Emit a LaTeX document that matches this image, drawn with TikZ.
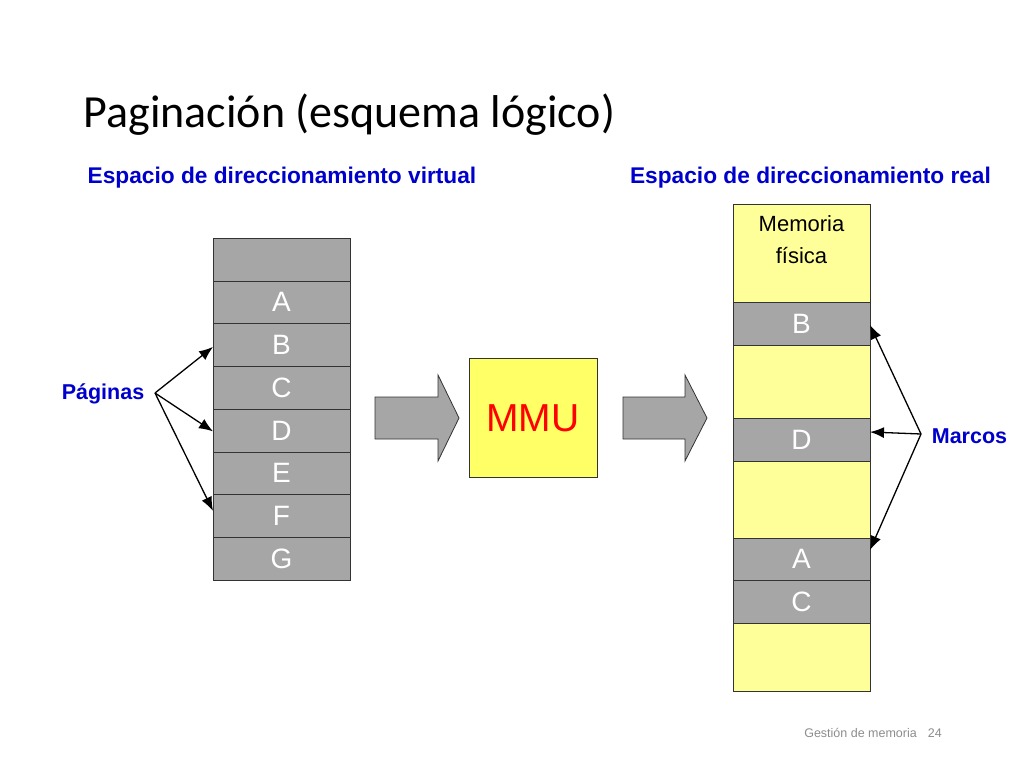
\documentclass[tikz,border=0pt]{standalone}
\usepackage{fontspec}
\setmainfont{Liberation Sans}
\newfontfamily\titlefont{Carlito}
\usetikzlibrary{arrows.meta,calc}

\definecolor{boxgray}{RGB}{166,166,166}
\definecolor{memyellow}{RGB}{255,255,153}
\definecolor{mmuyellow}{RGB}{255,255,102}
\definecolor{labelblue}{RGB}{0,0,204}

\tikzset{
  pagebox/.style={draw=black!80, fill=boxgray, text=white, inner sep=0pt, outer sep=0pt,
    minimum width=137pt, font=\fontsize{28}{28}\selectfont},
  membox/.style={draw=black!80, fill=memyellow, inner sep=0pt, outer sep=0pt, minimum width=137pt},
  pointer/.style={-{Latex[length=14pt,width=11pt]}, line width=1.3pt},
  bigarrow/.style={draw=black!80, fill=boxgray, line width=0.8pt},
  heading/.style={text=labelblue, font=\bfseries\fontsize{22.7}{22.7}\selectfont},
  sidelabel/.style={text=labelblue, font=\bfseries\fontsize{21.5}{21.5}\selectfont}
}

\begin{document}
\begin{tikzpicture}[x=1pt, y=-1pt]
\useasboundingbox (0,0) rectangle (1024,768);

\node[anchor=west, font=\titlefont\fontsize{46}{46}\selectfont] (title) at (80,115) {Paginación (esquema lógico)};

\node[heading] (hvirt) at (282,178) {Espacio de direccionamiento virtual};
\node[heading] (hreal) at (810.5,178) {Espacio de direccionamiento real};

% espacio virtual
\node[pagebox, minimum height=42.75pt] (r0) at (281.5,259.4) {};
\node[pagebox, minimum height=42.75pt] (rA) at (281.5,302.1) {A};
\node[pagebox, minimum height=42.75pt] (rB) at (281.5,344.9) {B};
\node[pagebox, minimum height=42.75pt] (rC) at (281.5,387.6) {C};
\node[pagebox, minimum height=42.75pt] (rD) at (281.5,430.4) {D};
\node[pagebox, minimum height=42.75pt] (rE) at (281.5,473.1) {E};
\node[pagebox, minimum height=42.75pt] (rF) at (281.5,515.9) {F};
\node[pagebox, minimum height=42.75pt] (rG) at (281.5,558.6) {G};

\node[sidelabel] (pag) at (103,394) {Páginas};
\coordinate (pagO) at (155,393);
\draw[pointer] (pagO) -- ($(rB.west)+(0,2)$);
\draw[pointer] (pagO) -- ($(rD.west)+(0,1)$);
\draw[pointer] (pagO) -- ($(rF.west)+(0,-5)$);

% MMU
\draw[bigarrow] (375,397) -- (438,397) -- (438,375) -- (459,418) -- (438,461) -- (438,439) -- (375,439) -- cycle;
\node[draw=black!80, fill=mmuyellow, text=red, minimum width=128pt, minimum height=119pt,
  inner sep=0pt, font=\fontsize{39}{39}\selectfont] (mmu) at (533,418) {MMU};
\draw[bigarrow] (623,397) -- (685,397) -- (685,375) -- (707,418) -- (685,461) -- (685,439) -- (623,439) -- cycle;

% memoria fisica
\node[membox, minimum height=98pt] (m0) at (801.5,253) {};
\node[font=\fontsize{22}{32}\selectfont, align=center] (mtext) at (801.5,240) {Memoria\\física};
\node[pagebox, minimum height=43pt] (mB) at (801.5,323.5) {B};
\node[membox, minimum height=73pt] (m1) at (801.5,381.5) {};
\node[pagebox, minimum height=43pt] (mD) at (801.5,439.5) {D};
\node[membox, minimum height=77pt] (m2) at (801.5,499.5) {};
\node[pagebox, minimum height=42pt] (mA) at (801.5,559) {A};
\node[pagebox, minimum height=43pt] (mC) at (801.5,601.5) {C};
\node[membox, minimum height=68pt] (m3) at (801.5,657) {};

\node[sidelabel] (mar) at (969.5,436) {Marcos};
\coordinate (marO) at (921,434);
\draw[pointer] (marO) -- ($(mB.east)+(0,1.5)$);
\draw[pointer] (marO) -- ($(mD.east)+(0,-7.5)$);
\draw[pointer] (marO) -- ($(mA.east)+(0,-9)$);

\node[text=black!45, font=\fontsize{12.5}{12.5}\selectfont] (foot) at (873,733) {Gestión de memoria\hspace{11pt}24};
\end{tikzpicture}
\end{document}
